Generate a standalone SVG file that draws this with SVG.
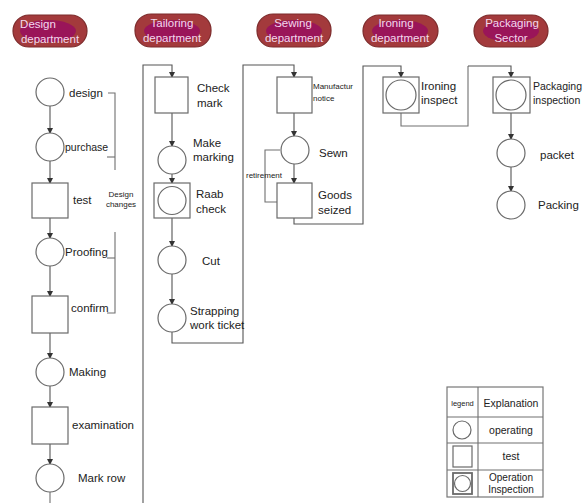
<svg xmlns="http://www.w3.org/2000/svg" width="587" height="503" viewBox="0 0 587 503">
<style>
.pill{fill:#a33a3c;stroke:#7d2b2b;stroke-width:1.2}
.pin{fill:#9a1559}
.ht{font-family:"Liberation Sans",Arial,sans-serif;font-size:11.5px;fill:#f4d8ec;text-anchor:middle}
.sh{fill:#fff;stroke:#6a6a6a;stroke-width:1.2}
.ln{fill:none;stroke:#707070;stroke-width:1.1}
.ar{fill:none;stroke:#555;stroke-width:1.1;marker-end:url(#ah)}
.t{font-family:"Liberation Sans",Arial,sans-serif;font-size:11.5px;fill:#222}
.s{font-family:"Liberation Sans",Arial,sans-serif;font-size:8px;fill:#222}
</style>
<defs>
<marker id="ah" markerWidth="6" markerHeight="6" refX="5" refY="3" orient="auto" markerUnits="userSpaceOnUse">
<path d="M0,0 L6,3 L0,6 Z" fill="#333"/>
</marker>
</defs>
<rect width="587" height="503" fill="#fff"/>

<!-- headers -->
<g id="h-design"><rect class="pill" x="13" y="15" width="74" height="32" rx="16"/><ellipse class="pin" cx="48" cy="31" rx="28" ry="11"/><text class="ht" x="38" y="28">Design</text><text class="ht" x="50" y="43">department</text></g>
<g id="h-tailoring"><rect class="pill" x="135" y="14" width="76" height="33" rx="16"/><ellipse class="pin" cx="172" cy="31" rx="28" ry="11"/><text class="ht" x="172" y="27">Tailoring</text><text class="ht" x="172" y="42">department</text></g>
<g id="h-sewing"><rect class="pill" x="257" y="14" width="74" height="33" rx="16"/><ellipse class="pin" cx="294" cy="31" rx="28" ry="11"/><text class="ht" x="293" y="27">Sewing</text><text class="ht" x="294" y="42">department</text></g>
<g id="h-ironing"><rect class="pill" x="363" y="15" width="75" height="32" rx="16"/><ellipse class="pin" cx="400" cy="31" rx="28" ry="11"/><text class="ht" x="396" y="27">Ironing</text><text class="ht" x="400" y="42">department</text></g>
<g id="h-packaging"><rect class="pill" x="474" y="15" width="74" height="32" rx="16"/><ellipse class="pin" cx="511" cy="31" rx="28" ry="11"/><text class="ht" x="512" y="27">Packaging</text><text class="ht" x="511" y="42">Sector</text></g>

<!-- connectors -->
<g id="connectors">
<path class="ar" d="M50,106 V133"/>
<path class="ar" d="M50,161 V183"/>
<path class="ar" d="M50,218 V238"/>
<path class="ar" d="M50,266 V296"/>
<path class="ar" d="M50,333 V358"/>
<path class="ar" d="M50,386 V407"/>
<path class="ar" d="M50,444 V464"/>
<path class="ln" d="M50,492 V503"/>
<path class="ar" d="M143,503 V65 H172 V77"/>
<path class="ar" d="M172,113 V146"/>
<path class="ar" d="M172,174 V183"/>
<path class="ar" d="M172,218 V246"/>
<path class="ar" d="M172,274 V304"/>
<path class="ar" d="M172,332 V343 H243 V65 H294 V77"/>
<path class="ar" d="M294,113 V136"/>
<path class="ar" d="M294,164 V183"/>
<path class="ar" d="M294,218 V224 H363 V66 H401 V77"/>
<path class="ln" d="M401,113 V126 H468 V66"/>
<path class="ar" d="M468,66 H511 V77"/>
<path class="ar" d="M511,113 V139"/>
<path class="ar" d="M511,167 V191"/>
<!-- brackets -->
<path class="ln" d="M108,93 H115 V170"/>
<path class="ln" d="M107,157 H115"/>
<path class="ln" d="M115,232 V313 H107"/>
<path class="ln" d="M107,258 H115"/>
<path class="ln" d="M280,150 H265 V202 H277"/>
</g>

<!-- design column -->
<g id="n-design"><circle class="sh" cx="50" cy="92" r="14"/><text class="t" x="69" y="97">design</text></g>
<g id="n-purchase"><circle class="sh" cx="50" cy="147" r="14"/><text class="t" x="65" y="151" style="font-size:10.5px">purchase</text></g>
<g id="n-test"><rect class="sh" x="32" y="183" width="36" height="35"/><text class="t" x="73" y="204">test</text><text class="s" x="121" y="197" text-anchor="middle">Design</text><text class="s" x="121" y="207" text-anchor="middle">changes</text></g>
<g id="n-proofing"><circle class="sh" cx="50" cy="252" r="14"/><text class="t" x="65" y="256">Proofing</text></g>
<g id="n-confirm"><rect class="sh" x="32" y="296" width="36" height="37"/><text class="t" x="71" y="312">confirm</text></g>
<g id="n-making"><circle class="sh" cx="50" cy="372" r="14"/><text class="t" x="69" y="376">Making</text></g>
<g id="n-examination"><rect class="sh" x="32" y="407" width="36" height="37"/><text class="t" x="72" y="429">examination</text></g>
<g id="n-markrow"><circle class="sh" cx="50" cy="478" r="14"/><text class="t" x="78" y="482">Mark row</text></g>

<!-- tailoring column -->
<g id="n-checkmark"><rect class="sh" x="155" y="77" width="33" height="36"/><text class="t" x="197" y="92">Check</text><text class="t" x="197" y="107">mark</text></g>
<g id="n-makemarking"><circle class="sh" cx="172" cy="160" r="14"/><text class="t" x="193" y="147">Make</text><text class="t" x="193" y="161">marking</text></g>
<g id="n-raab"><rect class="sh" x="154" y="183" width="36" height="35"/><circle class="sh" cx="172" cy="200.5" r="14"/><text class="t" x="196" y="198">Raab</text><text class="t" x="196" y="213">check</text></g>
<g id="n-cut"><circle class="sh" cx="172" cy="260" r="14"/><text class="t" x="202" y="265">Cut</text></g>
<g id="n-strapping"><circle class="sh" cx="172" cy="318" r="14"/><text class="t" x="190" y="315">Strapping</text><text class="t" x="190" y="329">work ticket</text></g>

<!-- sewing column -->
<g id="n-notice"><rect class="sh" x="277" y="77" width="35" height="36"/><text class="s" x="313" y="89">Manufactur</text><text class="s" x="313" y="101">notice</text></g>
<g id="n-sewn"><circle class="sh" cx="295" cy="150" r="14"/><text class="t" x="319" y="157">Sewn</text></g>
<g id="n-goods"><rect class="sh" x="277" y="183" width="35" height="35"/><text class="t" x="318" y="199">Goods</text><text class="t" x="318" y="214">seized</text><text class="s" x="246" y="178">retirement</text></g>

<!-- ironing -->
<g id="n-ironing"><rect class="sh" x="383" y="77" width="36" height="36"/><circle class="sh" cx="401" cy="95" r="15"/><text class="t" x="421" y="90">Ironing</text><text class="t" x="421" y="104">inspect</text></g>

<!-- packaging -->
<g id="n-pkginspect"><rect class="sh" x="493" y="77" width="37" height="36"/><circle class="sh" cx="511" cy="95" r="15"/><text class="t" x="533" y="90" style="font-size:10.5px">Packaging</text><text class="t" x="533" y="104" style="font-size:10.5px">inspection</text></g>
<g id="n-packet"><circle class="sh" cx="511" cy="153" r="14"/><text class="t" x="540" y="159">packet</text></g>
<g id="n-packing"><circle class="sh" cx="511" cy="205" r="14"/><text class="t" x="538" y="209">Packing</text></g>

<!-- legend -->
<g id="legend">
<rect x="447" y="387" width="96" height="110" fill="#fff" stroke="#777" stroke-width="1.2"/>
<path class="ln" d="M478,387 V497 M447,417 H543 M447,443 H543 M447,470 H543"/>
<text class="s" x="462.5" y="406" text-anchor="middle" style="font-size:7.5px">legend</text>
<text class="t" x="511" y="407" text-anchor="middle" style="font-size:10.5px">Explanation</text>
<circle class="sh" cx="462" cy="430" r="9"/>
<text class="t" x="511" y="434" text-anchor="middle" style="font-size:10.5px">operating</text>
<rect class="sh" x="453" y="446" width="19" height="21"/>
<text class="t" x="511" y="460" text-anchor="middle" style="font-size:10.5px">test</text>
<rect class="sh" x="453" y="473" width="19" height="21" style="stroke-width:1.8"/>
<circle class="sh" cx="462.5" cy="483.5" r="8"/>
<text class="t" x="511" y="481" text-anchor="middle" style="font-size:10px">Operation</text>
<text class="t" x="511" y="493" text-anchor="middle" style="font-size:10px">Inspection</text>
</g>
</svg>
